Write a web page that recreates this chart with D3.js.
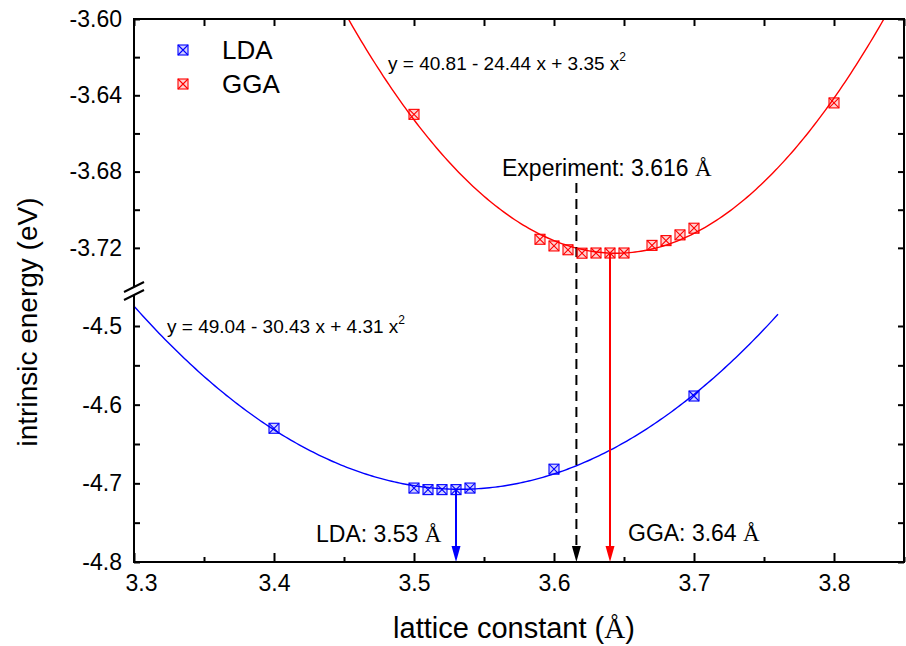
<!DOCTYPE html>
<html>
<head>
<script src="https://cdn.jsdelivr.net/npm/d3@7"></script>
<style>
  body { margin: 0; background: #fff; }
  text { font-family: "Liberation Sans", Arial, sans-serif; }
</style>
</head>
<body>
<script>
// lattice constants (Å) and intrinsic energies (eV)
const ldaX = [3.40, 3.50, 3.51, 3.52, 3.53, 3.54, 3.60, 3.70];
const ldaE = [-4.630, -4.706, -4.708, -4.708, -4.708, -4.706, -4.682, -4.589];
const ggaX = [3.50, 3.59, 3.60, 3.61, 3.62, 3.63, 3.64, 3.65, 3.67, 3.68, 3.69, 3.70, 3.80];
const ggaE = [-3.650, -3.7155, -3.719, -3.721, -3.7228, -3.7227, -3.7227, -3.7227, -3.7187, -3.7162, -3.7132, -3.7097, -3.644];

const xMajor = [3.3, 3.4, 3.5, 3.6, 3.7, 3.8];
const xMinor = [3.35, 3.45, 3.55, 3.65, 3.75, 3.85];
const yTopMajor = [-3.60, -3.64, -3.68, -3.72];
const yTopMinor = [-3.62, -3.66, -3.70];
const yBotMajor = [-4.5, -4.6, -4.7, -4.8];
const yBotMinor = [-4.55, -4.65, -4.75];

const ldaMin = 3.53, ggaMin = 3.64, expValue = 3.616;

var w = 906, h = 646;
var L = 134, R = 904, T = 19, B = 562;
var breakTop = 287, breakBot = 295;

var svg = d3.select('body').append('svg').attr('width', w).attr('height', h);

var x = d3.scaleLinear().domain([3.3, 3.85]).range([L, R]);
var yTop = d3.scaleLinear().domain([-3.74, -3.60]).range([286, T]);
var yBot = d3.scaleLinear().domain([-4.8, -4.455]).range([B, 290.6]);

// least squares quadratic fit, centred for stability
function quadFit(xs, ys) {
  var m = d3.mean(xs);
  var S = [0, 0, 0, 0, 0], Ty = [0, 0, 0];
  xs.forEach(function (v, i) {
    var u = v - m;
    for (var k = 0; k < 5; k++) S[k] += Math.pow(u, k);
    for (var k = 0; k < 3; k++) Ty[k] += ys[i] * Math.pow(u, k);
  });
  var A = [[S[0], S[1], S[2]], [S[1], S[2], S[3]], [S[2], S[3], S[4]]];
  // gaussian elimination
  var M = A.map(function (r, i) { return r.concat([Ty[i]]); });
  for (var i = 0; i < 3; i++) {
    for (var j = i + 1; j < 3; j++) {
      var f = M[j][i] / M[i][i];
      for (var k = i; k < 4; k++) M[j][k] -= f * M[i][k];
    }
  }
  var c = [0, 0, 0];
  for (var i = 2; i >= 0; i--) {
    var s = M[i][3];
    for (var k = i + 1; k < 3; k++) s -= M[i][k] * c[k];
    c[i] = s / M[i][i];
  }
  return function (v) { var u = v - m; return c[0] + c[1] * u + c[2] * u * u; };
}

var ldaFit = quadFit(ldaX, ldaE);
var ggaFit = quadFit(ggaX, ggaE);

svg.append('clipPath').attr('id', 'clipTop')
  .append('rect').attr('x', L).attr('y', T).attr('width', R - L).attr('height', 286 - T);
svg.append('clipPath').attr('id', 'clipBot')
  .append('rect').attr('x', L).attr('y', 290).attr('width', R - L).attr('height', B - 290);

// fit curves
var ggaCurve = d3.range(3.40, 3.8501, 0.002).map(function (v) { return [v, ggaFit(v)]; });
var ldaCurve = d3.range(3.30, 3.7601, 0.002).map(function (v) { return [v, ldaFit(v)]; });

svg.append('path')
  .attr('clip-path', 'url(#clipTop)')
  .attr('d', d3.line().x(d => x(d[0])).y(d => yTop(d[1]))(ggaCurve))
  .attr('fill', 'none').attr('stroke', '#ff0000').attr('stroke-width', 1.4);

svg.append('path')
  .attr('clip-path', 'url(#clipBot)')
  .attr('d', d3.line().x(d => x(d[0])).y(d => yBot(d[1]))(ldaCurve))
  .attr('fill', 'none').attr('stroke', '#0000ff').attr('stroke-width', 1.4);

// arrows
function arrow(xv, y0, color, dashed) {
  var xp = x(xv);
  var line = svg.append('line')
    .attr('x1', xp).attr('x2', xp).attr('y1', y0).attr('y2', B - 12)
    .attr('stroke', color).attr('stroke-width', 2);
  if (dashed) line.attr('stroke-dasharray', '10,6');
  svg.append('path')
    .attr('d', 'M' + (xp - 4.5) + ',' + (B - 16) + 'L' + (xp + 4.5) + ',' + (B - 16) + 'L' + xp + ',' + B + 'Z')
    .attr('fill', color);
}
arrow(ldaMin, yBot(ldaFit(ldaMin)), '#0000ff', false);
arrow(expValue, 183, '#000000', true);
arrow(ggaMin, yTop(ggaFit(ggaMin)), '#ff0000', false);

// markers: square with a cross
function marker(g, cx, cy, color, s) {
  var hs = s / 2;
  g.append('rect').attr('x', cx - hs).attr('y', cy - hs).attr('width', s).attr('height', s)
    .attr('fill', color).attr('fill-opacity', 0.18).attr('stroke', color).attr('stroke-width', 1.1);
  g.append('path')
    .attr('d', 'M' + (cx - hs) + ',' + (cy - hs) + 'L' + (cx + hs) + ',' + (cy + hs) +
      'M' + (cx + hs) + ',' + (cy - hs) + 'L' + (cx - hs) + ',' + (cy + hs))
    .attr('stroke', color).attr('stroke-width', 1.1);
}
var pts = svg.append('g');
ggaX.forEach(function (v, i) { marker(pts, x(v), yTop(ggaE[i]), '#ff0000', 10); });
ldaX.forEach(function (v, i) { marker(pts, x(v), yBot(ldaE[i]), '#0000ff', 10); });

// axes
function styleAxis(g) {
  g.select('.domain').remove();
  g.selectAll('.tick line').attr('stroke', '#000').attr('stroke-width', 2);
  g.selectAll('.tick text').attr('font-size', 23).attr('font-family', '"Liberation Sans", Arial, sans-serif').attr('fill', '#000');
}
var xAxis = svg.append('g').attr('transform', 'translate(0,' + B + ')')
  .call(d3.axisBottom(x).tickValues(xMajor).tickSizeInner(-9).tickSizeOuter(0).tickPadding(13).tickFormat(d3.format('.1f')))
  .call(styleAxis);
// first label sits a bit to the right, clear of the -4.8 label
xAxis.selectAll('.tick text').filter(d => d === xMajor[0]).attr('dx', 7);
svg.append('g').attr('transform', 'translate(0,' + B + ')')
  .call(d3.axisBottom(x).tickValues(xMinor).tickSizeInner(-5).tickSizeOuter(0).tickFormat(''))
  .call(styleAxis);
svg.append('g').attr('transform', 'translate(0,' + T + ')')
  .call(d3.axisTop(x).tickValues(xMajor.concat(xMinor)).tickSizeInner(-7).tickSizeOuter(0).tickFormat(''))
  .call(styleAxis);

svg.append('g').attr('transform', 'translate(' + L + ',0)')
  .call(d3.axisLeft(yTop).tickValues(yTopMajor.concat(yTopMinor)).tickSizeInner(-6).tickSizeOuter(0).tickPadding(12)
    .tickFormat(function (d) { return yTopMajor.indexOf(d) >= 0 ? d3.format('.2f')(d).replace('−', '-') : ''; }))
  .call(styleAxis);
svg.append('g').attr('transform', 'translate(' + L + ',0)')
  .call(d3.axisLeft(yBot).tickValues(yBotMajor.concat(yBotMinor)).tickSizeInner(-6).tickSizeOuter(0).tickPadding(12)
    .tickFormat(function (d) { return yBotMajor.indexOf(d) >= 0 ? d3.format('.1f')(d).replace('−', '-') : ''; }))
  .call(styleAxis);
svg.append('g').attr('transform', 'translate(' + R + ',0)')
  .call(d3.axisRight(yTop).tickValues(yTopMajor.concat(yTopMinor)).tickSizeInner(-6).tickSizeOuter(0).tickFormat(''))
  .call(styleAxis);
svg.append('g').attr('transform', 'translate(' + R + ',0)')
  .call(d3.axisRight(yBot).tickValues(yBotMajor.concat(yBotMinor)).tickSizeInner(-6).tickSizeOuter(0).tickFormat(''))
  .call(styleAxis);

// frame
var frame = svg.append('g').attr('stroke', '#000').attr('stroke-width', 2).attr('fill', 'none');
frame.append('path').attr('d', 'M' + L + ',' + breakTop + 'V' + T + 'H' + R + 'V' + B + 'H' + L + 'V' + breakBot);
frame.append('line').attr('x1', L - 10).attr('y1', breakTop + 5).attr('x2', L + 10).attr('y2', breakTop - 5).attr('stroke-width', 2);
frame.append('line').attr('x1', L - 10).attr('y1', breakBot + 5).attr('x2', L + 10).attr('y2', breakBot - 5).attr('stroke-width', 2);

// legend
marker(svg, 183, 50, '#0000ff', 10);
marker(svg, 183, 84, '#ff0000', 10);
svg.append('text').attr('x', 222).attr('y', 59).attr('font-size', 26).text('LDA');
svg.append('text').attr('x', 222).attr('y', 93).attr('font-size', 26).text('GGA');

// fit equations
function equation(xp, yp, txt) {
  var t = svg.append('text').attr('x', xp).attr('y', yp).attr('font-size', 19);
  t.append('tspan').text(txt);
  t.append('tspan').attr('dy', -9).attr('font-size', 12).text('2');
}
equation(388, 70, 'y = 40.81 - 24.44 x + 3.35 x');
equation(167, 333, 'y = 49.04 - 30.43 x + 4.31 x');

// annotations
function annot(xp, yp, label, anchor) {
  var t = svg.append('text').attr('x', xp).attr('y', yp).attr('font-size', 23).attr('text-anchor', anchor || 'start');
  t.append('tspan').text(label + ' ');
  t.append('tspan').attr('font-family', '"Liberation Serif", "Times New Roman", serif').text('Å');
}
annot(502, 176, 'Experiment: 3.616');
annot(316, 542, 'LDA: 3.53');
annot(628, 541, 'GGA: 3.64');

// axis titles
var xt = svg.append('text').attr('x', 514).attr('y', 638).attr('text-anchor', 'middle').attr('font-size', 29);
xt.append('tspan').text('lattice constant (');
xt.append('tspan').attr('font-family', '"Liberation Serif", "Times New Roman", serif').text('Å');
xt.append('tspan').text(')');

svg.append('text')
  .attr('transform', 'translate(37,322) rotate(-90)')
  .attr('text-anchor', 'middle').attr('font-size', 28)
  .text('intrinsic energy (eV)');
</script>
</body>
</html>
